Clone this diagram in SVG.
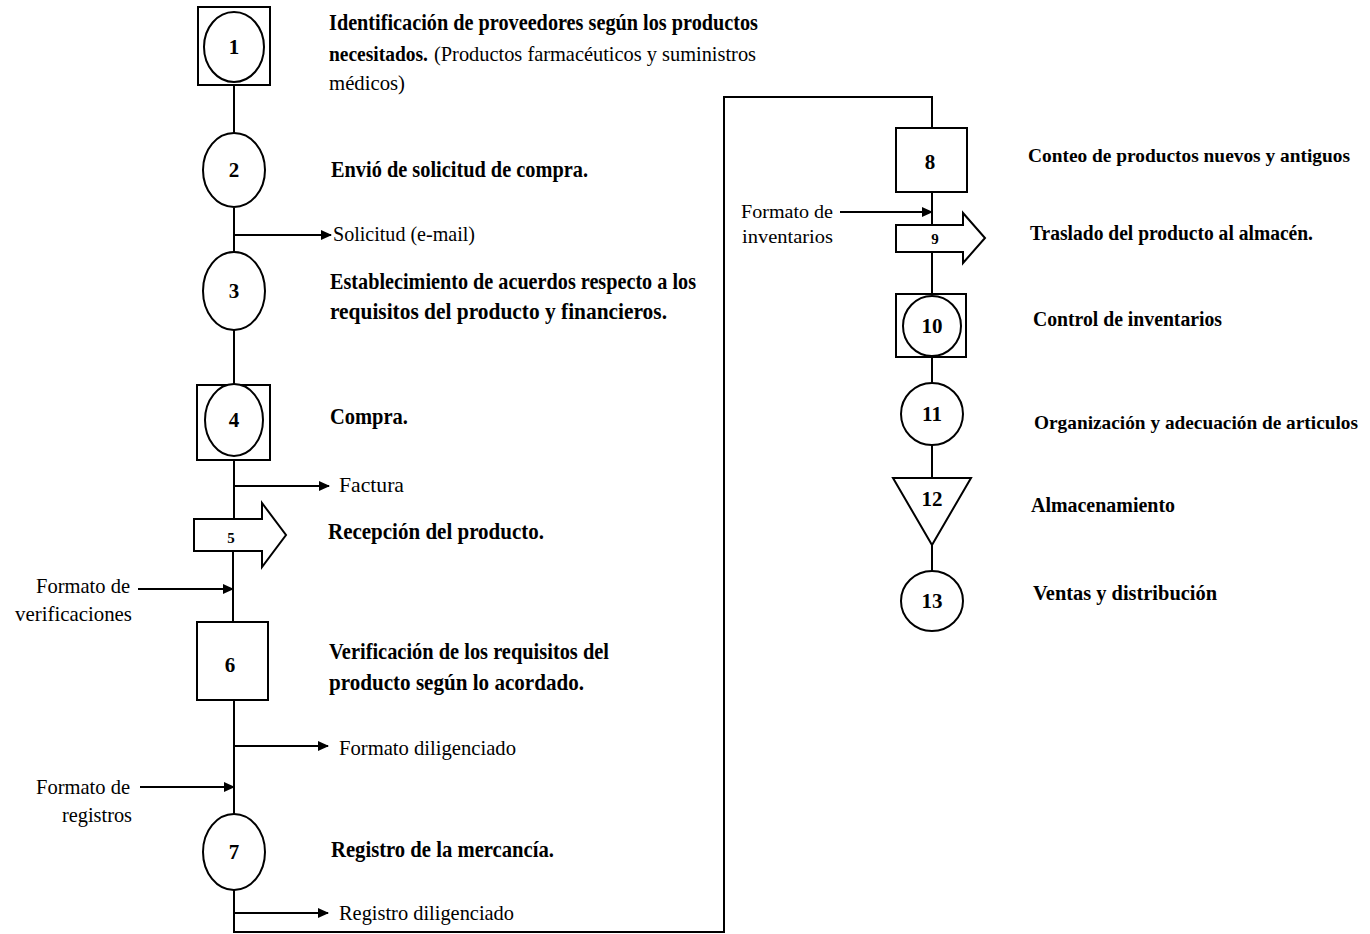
<svg xmlns="http://www.w3.org/2000/svg" width="1370" height="934" viewBox="0 0 1370 934">
<defs>
<marker id="ah" markerWidth="11" markerHeight="10" refX="10" refY="5" orient="auto" markerUnits="userSpaceOnUse">
<path d="M0,0 L11,5 L0,10 Z" fill="#000"/>
</marker>
<style>
.s{fill:#fff;stroke:#000;stroke-width:2}
.c{fill:none;stroke:#000;stroke-width:2}
.a{fill:none;stroke:#000;stroke-width:2;marker-end:url(#ah)}
.t{font-family:"Liberation Serif",serif;font-size:23px;font-weight:bold;fill:#000}
.tr{font-family:"Liberation Serif",serif;font-size:20px;font-weight:bold;fill:#000}
.tl{font-family:"Liberation Serif",serif;font-size:19px;font-weight:bold;fill:#000}
.r{font-family:"Liberation Serif",serif;font-size:21px;fill:#000}
.ri{font-family:"Liberation Serif",serif;font-size:19px;fill:#000}
.n{font-family:"Liberation Serif",serif;font-size:21px;font-weight:bold;fill:#000;text-anchor:middle}
.sm{font-family:"Liberation Serif",serif;font-size:15px;font-weight:bold;fill:#000;text-anchor:middle}
</style>
</defs>
<rect width="1370" height="934" fill="#fff"/>
<g id="connectors">
<path class="c" d="M234,85 V133"/>
<path class="c" d="M234,208 V252"/>
<path class="c" d="M234,330 V385"/>
<path class="c" d="M234,460 V519"/>
<path class="c" d="M233,551 V622"/>
<path class="c" d="M234,700 V814"/>
<path class="c" d="M234,890 V932 H724 V97 H932 V128"/>
<path class="c" d="M932,192 V225"/>
<path class="c" d="M932,252 V294"/>
<path class="c" d="M932,357 V384"/>
<path class="c" d="M932,445 V478"/>
<path class="c" d="M932,545 V571"/>
<path class="a" d="M234,235 H331"/>
<path class="a" d="M234,486 H329"/>
<path class="a" d="M138,589 H233"/>
<path class="a" d="M234,746 H328"/>
<path class="a" d="M140,787 H234"/>
<path class="a" d="M234,913 H328"/>
<path class="a" d="M840,212 H932"/>
</g>
<g id="node1">
<rect class="s" x="198" y="7" width="72" height="78"/>
<ellipse class="s" cx="234" cy="47" rx="30" ry="35"/>
<text class="n" x="234" y="54">1</text>
<text class="t" x="329" y="30" textLength="429" lengthAdjust="spacingAndGlyphs">Identificación de proveedores según los productos</text>
<text class="tr" x="329" y="61" textLength="99" lengthAdjust="spacingAndGlyphs">necesitados.</text>
<text class="r" x="434" y="61" textLength="322" lengthAdjust="spacingAndGlyphs">(Productos farmacéuticos y suministros</text>
<text class="r" x="329" y="90" textLength="76" lengthAdjust="spacingAndGlyphs">médicos)</text>
</g>
<g id="node2">
<ellipse class="s" cx="234" cy="170" rx="31" ry="37"/>
<text class="n" x="234" y="177">2</text>
<text class="t" x="331" y="177" textLength="257" lengthAdjust="spacingAndGlyphs">Envió de solicitud de compra.</text>
<text class="r" x="333" y="241" textLength="142" lengthAdjust="spacingAndGlyphs">Solicitud (e-mail)</text>
</g>
<g id="node3">
<ellipse class="s" cx="234" cy="291" rx="31" ry="39"/>
<text class="n" x="234" y="298">3</text>
<text class="t" x="330" y="289" textLength="366" lengthAdjust="spacingAndGlyphs">Establecimiento de acuerdos respecto a los</text>
<text class="t" x="330" y="319" textLength="337" lengthAdjust="spacingAndGlyphs">requisitos del producto y financieros.</text>
</g>
<g id="node4">
<rect class="s" x="197" y="385" width="73" height="75"/>
<ellipse class="s" cx="234" cy="420" rx="29" ry="36"/>
<text class="n" x="234" y="427">4</text>
<text class="t" x="330" y="424" textLength="78" lengthAdjust="spacingAndGlyphs">Compra.</text>
<text class="r" x="339" y="492" textLength="65" lengthAdjust="spacingAndGlyphs">Factura</text>
</g>
<g id="node5">
<path class="s" d="M194,519 H262 V503 L286,535 L262,567 V551 H194 Z"/>
<text class="sm" x="231" y="543">5</text>
<text class="t" x="328" y="539" textLength="216" lengthAdjust="spacingAndGlyphs">Recepción  del producto.</text>
<text class="r" x="36" y="593" textLength="94" lengthAdjust="spacingAndGlyphs">Formato de</text>
<text class="r" x="15" y="621" textLength="117" lengthAdjust="spacingAndGlyphs">verificaciones</text>
</g>
<g id="node6">
<rect class="s" x="197" y="622" width="71" height="78"/>
<text class="n" x="230" y="672">6</text>
<text class="t" x="329" y="659" textLength="280" lengthAdjust="spacingAndGlyphs">Verificación de los requisitos del</text>
<text class="t" x="329" y="690" textLength="255" lengthAdjust="spacingAndGlyphs">producto según lo acordado.</text>
<text class="r" x="339" y="755" textLength="177" lengthAdjust="spacingAndGlyphs">Formato diligenciado</text>
<text class="r" x="36" y="794" textLength="94" lengthAdjust="spacingAndGlyphs">Formato de</text>
<text class="r" x="62" y="822" textLength="70" lengthAdjust="spacingAndGlyphs">registros</text>
</g>
<g id="node7">
<ellipse class="s" cx="234" cy="852" rx="31" ry="38"/>
<text class="n" x="234" y="859">7</text>
<text class="t" x="331" y="857" textLength="223" lengthAdjust="spacingAndGlyphs">Registro de la mercancía.</text>
<text class="r" x="339" y="920" textLength="175" lengthAdjust="spacingAndGlyphs">Registro diligenciado</text>
</g>
<g id="node8">
<rect class="s" x="896" y="128" width="71" height="64"/>
<text class="n" x="930" y="169">8</text>
<text class="tl" x="1028" y="162" textLength="322" lengthAdjust="spacingAndGlyphs">Conteo de productos nuevos y antiguos</text>
</g>
<g id="node9">
<path class="s" d="M896,225 H963 V213 L985,238 L963,263 V252 H896 Z"/>
<text class="sm" x="935" y="244">9</text>
<text class="tr" x="1030" y="240" textLength="283" lengthAdjust="spacingAndGlyphs">Traslado del producto al almacén.</text>
<text class="ri" x="741" y="218" textLength="92" lengthAdjust="spacingAndGlyphs">Formato de</text>
<text class="ri" x="742" y="243" textLength="91" lengthAdjust="spacingAndGlyphs">inventarios</text>
</g>
<g id="node10">
<rect class="s" x="896" y="294" width="70" height="63"/>
<ellipse class="s" cx="932" cy="326" rx="29" ry="30"/>
<text class="n" x="932" y="333">10</text>
<text class="tr" x="1033" y="326" textLength="189" lengthAdjust="spacingAndGlyphs">Control de inventarios</text>
</g>
<g id="node11">
<ellipse class="s" cx="932" cy="414" rx="31" ry="31"/>
<text class="n" x="932" y="421">11</text>
<text class="tl" x="1034" y="429" textLength="324" lengthAdjust="spacingAndGlyphs">Organización y adecuación de articulos</text>
</g>
<g id="node12">
<path class="s" d="M893,478 H971 L932,545 Z"/>
<text class="n" x="932" y="506">12</text>
<text class="tr" x="1031" y="512" textLength="144" lengthAdjust="spacingAndGlyphs">Almacenamiento</text>
</g>
<g id="node13">
<ellipse class="s" cx="932" cy="601" rx="31" ry="30"/>
<text class="n" x="932" y="608">13</text>
<text class="tr" x="1033" y="600" textLength="184" lengthAdjust="spacingAndGlyphs">Ventas  y distribución</text>
</g>
</svg>
